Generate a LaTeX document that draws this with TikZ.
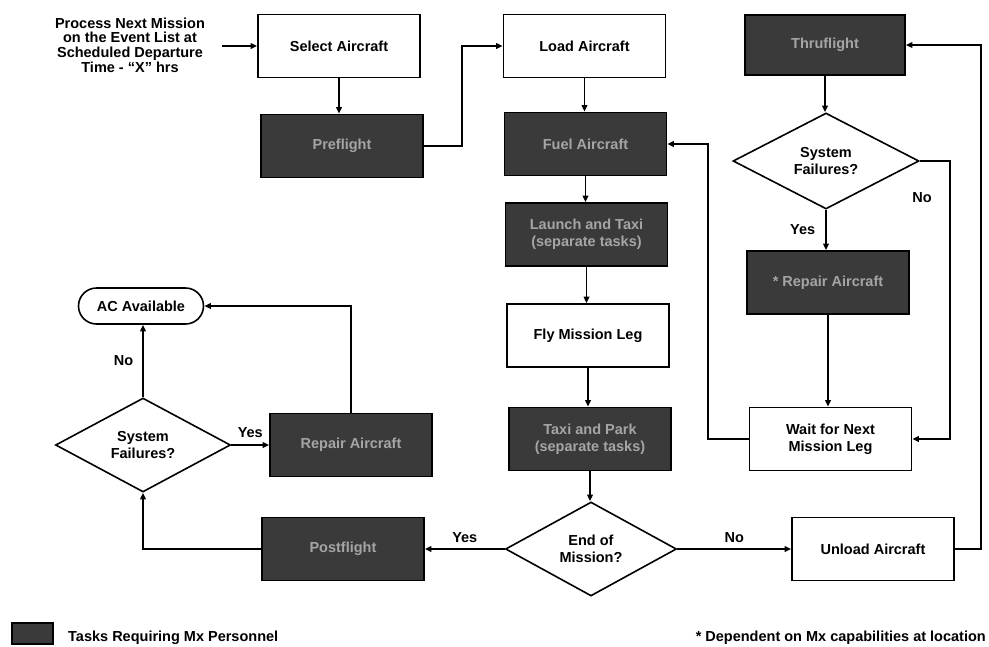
\documentclass[tikz,border=0pt]{standalone}
\usepackage{fontspec}
\setmainfont{Liberation Sans}
\usetikzlibrary{arrows.meta,shapes.geometric}
\definecolor{shade}{RGB}{58,58,58}
\definecolor{shadetext}{RGB}{165,165,165}
\tikzset{
  base/.style={font=\fontsize{14.5}{17}\selectfont\bfseries, align=center, inner sep=0pt},
  lbl/.style={base},
  wbox/.style={base, draw, line width=1.6pt, fill=white, minimum width=162pt, minimum height=63pt},
  gbox/.style={base, draw, line width=1.6pt, fill=shade, text=shadetext, minimum width=162pt, minimum height=63pt},
  dia/.style={base, draw, line width=1.6pt, diamond, fill=white},
  term/.style={base, draw, line width=1.6pt, rounded corners=18pt, minimum width=125pt, minimum height=36pt},
  arr/.style={draw, line width=1.6pt, -{Triangle[length=6.5pt,width=5.5pt]}}
}
\begin{document}
\begin{tikzpicture}[x=1pt,y=-1pt]
\useasboundingbox (0,0) rectangle (989,646);
% nodes
\node[base, font=\fontsize{14.5}{14.6}\selectfont\bfseries] (proc) at (130,45) {Process Next Mission\\on the Event List at\\Scheduled Departure\\Time - “X” hrs};
\node[wbox] (sel) at (339,46) {Select Aircraft};
\node[gbox] (pre) at (342,146) {Preflight};
\node[wbox] (load) at (584.5,46) {Load Aircraft};
\node[gbox] (fuel) at (585.5,144) {Fuel Aircraft};
\node[gbox] (launch) at (586.5,234.5) {Launch and Taxi\\(separate tasks)};
\node[wbox] (fly) at (588,335.5) {Fly Mission Leg};
\node[gbox] (taxi) at (590,439) {Taxi and Park\\(separate tasks)};
\node[dia, minimum width=171pt, minimum height=94pt] (eom) at (591,549) {End of\\Mission?};
\node[gbox] (post) at (343,549) {Postflight};
\node[wbox] (unl) at (873,549) {Unload Aircraft};
\node[gbox, minimum width=160pt, minimum height=60pt] (thru) at (825,45) {Thruflight};
\node[dia, minimum width=186pt, minimum height=96pt] (sf2) at (826,161) {System\\Failures?};
\node[gbox] (rep2) at (828,282.5) {* Repair Aircraft};
\node[wbox] (wait) at (830.5,439) {Wait for Next\\Mission Leg};
\node[term] (ac) at (141,306) {AC Available};
\node[dia, minimum width=175pt, minimum height=94pt] (sf1) at (143,445) {System\\Failures?};
\node[gbox] (rep1) at (351,445) {Repair Aircraft};
% legend
\node[gbox, minimum width=41pt, minimum height=21pt] (leg) at (32.5,633.5) {};
\node[lbl, anchor=west] (legt) at (68,638) {Tasks Requiring Mx Personnel};
\node[lbl, anchor=east] (note) at (986,638) {* Dependent on Mx capabilities at location};
% helper coordinates
\coordinate (c0) at (222,46);
\coordinate (c1) at (462,146);
\coordinate (c2) at (981,549);
\coordinate (c3) at (950,161);
\coordinate (c4) at (708,439);
% connectors
\draw[arr] (c0) -- (sel.west);
\draw[arr] (sel.south) -- (sel.south |- pre.north);
\draw[arr] (pre.east) -- (c1) |- (load.west);
\draw[arr] (load.south) -- (load.south |- fuel.north);
\draw[arr] (fuel.south) -- (fuel.south |- launch.north);
\draw[arr] (launch.south) -- (launch.south |- fly.north);
\draw[arr] (fly.south) -- (fly.south |- taxi.north);
\draw[arr] (taxi.south) -- (taxi.south |- eom.north);
\draw[arr] (eom.west) -- node[lbl, midway, above=6pt] {Yes} (post.east);
\draw[arr] (eom.east) -- node[lbl, midway, above=6pt] {No} (unl.west);
\draw[arr] (unl.east) -- (c2) |- (thru.east);
\draw[arr] (thru.south) -- (thru.south |- sf2.north);
\draw[arr] (sf2.south) -- node[lbl, midway, left=10pt] {Yes} (sf2.south |- rep2.north);
\draw[arr] (sf2.east) -- (c3) |- (wait.east);
\node[lbl] (no2) at (922,198) {No};
\draw[arr] (rep2.south) -- (rep2.south |- wait.north);
\draw[arr] (wait.west) -- (c4) |- (fuel.east);
\draw[arr] (post.west) -| (sf1.south);
\draw[arr] (sf1.north) -- node[lbl, midway, left=9pt] {No} (sf1.north |- ac.south);
\draw[arr] (sf1.east) -- node[lbl, midway, above=7pt] {Yes} (rep1.west);
\draw[arr] (rep1.north) |- (ac.east);
\end{tikzpicture}
\end{document}
